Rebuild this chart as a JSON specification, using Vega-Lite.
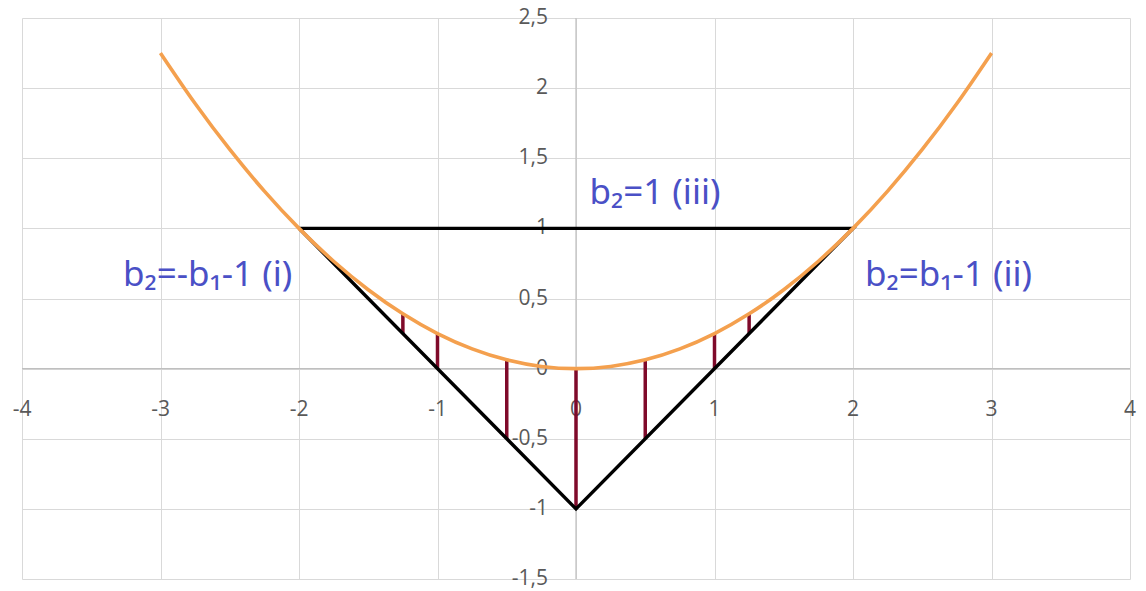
{
  "$schema": "https://vega.github.io/schema/vega-lite/v6.json",
  "width": 1108,
  "height": 561,
  "autosize": {"type": "none"},
  "padding": {"left": 22, "top": 18, "right": 16, "bottom": 12},
  "background": "white",
  "config": {
    "view": {"stroke": null},
    "font": "Open Sans",
    "axis": {"labels": false, "ticks": false, "domain": false, "grid": true, "gridColor": "#d9d9d9", "gridWidth": 1, "titleOpacity": 0}
  },
  "layer": [
    {
      "data": {"values": [{"x": 0, "y": 0}]},
      "mark": {"type": "rule", "color": "#bfbfbf", "strokeWidth": 1.2},
      "encoding": {
        "x": {"field": "x", "type": "quantitative", "title": null, "scale": {"domain": [-4, 4], "nice": false, "zero": false},
          "axis": {"values": [-4, -3, -2, -1, 0, 1, 2, 3, 4], "title": null}}
      }
    },
    {
      "data": {"values": [{"x": 0, "y": 0}]},
      "mark": {"type": "rule", "color": "#bfbfbf", "strokeWidth": 1.2},
      "encoding": {
        "y": {"field": "y", "type": "quantitative", "title": null, "scale": {"domain": [-1.5, 2.5], "nice": false, "zero": false},
          "axis": {"values": [-1.5, -1, -0.5, 0, 0.5, 1, 1.5, 2, 2.5], "title": null}}
      }
    },
    {
      "data": {"values": [
        {"x": -4, "y": 0, "label": "-4"}, {"x": -3, "y": 0, "label": "-3"}, {"x": -2, "y": 0, "label": "-2"},
        {"x": -1, "y": 0, "label": "-1"}, {"x": 0, "y": 0, "label": "0"}, {"x": 1, "y": 0, "label": "1"},
        {"x": 2, "y": 0, "label": "2"}, {"x": 3, "y": 0, "label": "3"}, {"x": 4, "y": 0, "label": "4"}
      ]},
      "mark": {"type": "text", "fontSize": 21, "color": "#595959", "align": "center", "baseline": "middle", "dy": 41},
      "encoding": {
        "x": {"field": "x", "type": "quantitative", "title": null},
        "y": {"field": "y", "type": "quantitative", "title": null},
        "text": {"field": "label"}
      }
    },
    {
      "data": {"values": [
        {"x": 0, "y": -1.5, "label": "-1,5"}, {"x": 0, "y": -1, "label": "-1"}, {"x": 0, "y": -0.5, "label": "-0,5"},
        {"x": 0, "y": 0, "label": "0"}, {"x": 0, "y": 0.5, "label": "0,5"}, {"x": 0, "y": 1, "label": "1"},
        {"x": 0, "y": 1.5, "label": "1,5"}, {"x": 0, "y": 2, "label": "2"}, {"x": 0, "y": 2.5, "label": "2,5"}
      ]},
      "mark": {"type": "text", "fontSize": 21, "color": "#595959", "align": "right", "baseline": "middle", "dx": -28},
      "encoding": {
        "x": {"field": "x", "type": "quantitative", "title": null},
        "y": {"field": "y", "type": "quantitative", "title": null},
        "text": {"field": "label"}
      }
    },
    {
      "data": {"values": [
        {"x": -1.25, "y": 0.25, "y2": 0.390625},
        {"x": -1, "y": 0, "y2": 0.25},
        {"x": -0.5, "y": -0.5, "y2": 0.0625},
        {"x": 0, "y": -1, "y2": 0},
        {"x": 0.5, "y": -0.5, "y2": 0.0625},
        {"x": 1, "y": 0, "y2": 0.25},
        {"x": 1.25, "y": 0.25, "y2": 0.390625}
      ]},
      "mark": {"type": "rule", "color": "#7f0a2a", "strokeWidth": 3.5},
      "encoding": {
        "x": {"field": "x", "type": "quantitative", "title": null},
        "y": {"field": "y", "type": "quantitative", "title": null},
        "y2": {"field": "y2"}
      }
    },
    {
      "data": {"values": [
        {"i": 0, "x": -2, "y": 1}, {"i": 1, "x": 0, "y": -1}, {"i": 2, "x": 2, "y": 1}, {"i": 3, "x": -2, "y": 1}
      ]},
      "mark": {"type": "line", "color": "#000000", "strokeWidth": 3.4},
      "encoding": {
        "x": {"field": "x", "type": "quantitative", "title": null},
        "y": {"field": "y", "type": "quantitative", "title": null},
        "order": {"field": "i"}
      }
    },
    {
      "data": {"values": [
        {"x": -3, "y": 2.25}, {"x": -2.75, "y": 1.890625}, {"x": -2.5, "y": 1.5625}, {"x": -2.25, "y": 1.265625},
        {"x": -2, "y": 1}, {"x": -1.75, "y": 0.765625}, {"x": -1.5, "y": 0.5625}, {"x": -1.25, "y": 0.390625},
        {"x": -1, "y": 0.25}, {"x": -0.75, "y": 0.140625}, {"x": -0.5, "y": 0.0625}, {"x": -0.25, "y": 0.015625},
        {"x": 0, "y": 0}, {"x": 0.25, "y": 0.015625}, {"x": 0.5, "y": 0.0625}, {"x": 0.75, "y": 0.140625},
        {"x": 1, "y": 0.25}, {"x": 1.25, "y": 0.390625}, {"x": 1.5, "y": 0.5625}, {"x": 1.75, "y": 0.765625},
        {"x": 2, "y": 1}, {"x": 2.25, "y": 1.265625}, {"x": 2.5, "y": 1.5625}, {"x": 2.75, "y": 1.890625},
        {"x": 3, "y": 2.25}
      ]},
      "mark": {"type": "line", "color": "#f4a04e", "strokeWidth": 3.6, "interpolate": "monotone"},
      "encoding": {
        "x": {"field": "x", "type": "quantitative", "title": null},
        "y": {"field": "y", "type": "quantitative", "title": null}
      }
    },
    {
      "data": {"values": [
        {"x": 0.57, "y": 1.25, "label": "b₂=1 (iii)"},
        {"x": -2.66, "y": 0.67, "label": "b₂=-b₁-1 (i)"},
        {"x": 2.69, "y": 0.67, "label": "b₂=b₁-1 (ii)"}
      ]},
      "mark": {"type": "text", "font": "Noto Sans", "fontSize": 35, "color": "#4a50c6", "align": "center", "baseline": "middle"},
      "encoding": {
        "x": {"field": "x", "type": "quantitative", "title": null},
        "y": {"field": "y", "type": "quantitative", "title": null},
        "text": {"field": "label"}
      }
    }
  ]
}
